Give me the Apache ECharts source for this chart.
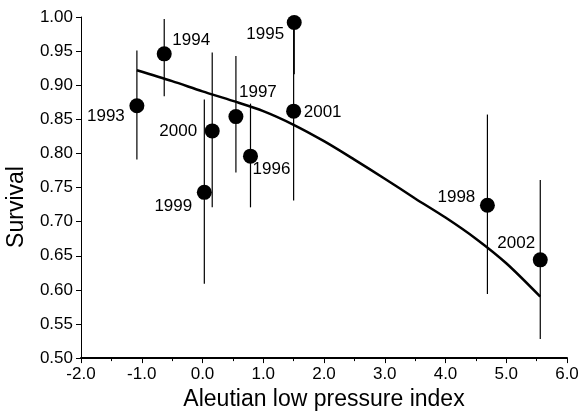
<!DOCTYPE html>
<html>
<head>
<meta charset="utf-8">
<script src="https://cdn.jsdelivr.net/npm/echarts@6/dist/echarts.min.js"></script>
<style>
  html, body { margin: 0; padding: 0; background: #fff; }
  #chart { width: 583px; height: 416px; }
</style>
</head>
<body>
<div id="chart"></div>
<script>
// survival per year vs Aleutian low pressure index
const years = ['1993', '1994', '1995', '1996', '1997', '1998', '1999', '2000', '2001', '2002'];
const aleutian = [-1.08, -0.63, 1.51, 0.79, 0.55, 4.69, 0.03, 0.16, 1.50, 5.56];
const survival = [0.870, 0.946, 0.992, 0.796, 0.854, 0.724, 0.743, 0.833, 0.862, 0.644];
const ciLow = [0.791, 0.884, 0.916, 0.721, 0.772, 0.594, 0.609, 0.721, 0.731, 0.528];
const ciHigh = [0.951, 0.997, 1.000, 0.873, 0.943, 0.857, 0.879, 0.948, 0.990, 0.761];

// fitted curve
const fitX = [-1.08, -0.5, 0.0, 0.5, 1.0, 1.5, 2.0, 2.5, 3.0, 3.5, 4.0, 4.5, 5.0, 5.56];
const fitY = [0.922, 0.906, 0.891, 0.877, 0.862, 0.842, 0.818, 0.791, 0.763, 0.734, 0.706, 0.675, 0.639, 0.590];

// where each year label sits relative to its dot
const labelOffset = {
  '1993': [-31, 11],
  '1994': [27, -14],
  '1995': [-29, 12],
  '1996': [21, 13],
  '1997': [22, -24],
  '1998': [-31, -8],
  '1999': [-31, 14],
  '2000': [-34, 0],
  '2001': [29, 1],
  '2002': [-24, -17]
};

const font = 'Liberation Sans, Arial, Helvetica, sans-serif';

const chart = echarts.init(document.getElementById('chart'));

const option = {
  animation: false,
  backgroundColor: '#fff',
  grid: { left: 81, right: 16, top: 17, bottom: 53, containLabel: false },
  xAxis: {
    type: 'value',
    min: -2,
    max: 6,
    interval: 1,
    name: 'Aleutian low pressure index',
    nameLocation: 'middle',
    nameGap: 25,
    nameTextStyle: { fontFamily: font, fontSize: 23, color: '#000' },
    axisLine: { onZero: false, lineStyle: { color: '#000', width: 2 } },
    axisTick: { length: 5, lineStyle: { color: '#000', width: 1 } },
    minorTick: { show: true, splitNumber: 2, length: 3, lineStyle: { color: '#000', width: 1 } },
    axisLabel: {
      margin: 8,
      fontFamily: font,
      fontSize: 17,
      color: '#000',
      formatter: v => v.toFixed(1)
    },
    splitLine: { show: false }
  },
  yAxis: {
    type: 'value',
    min: 0.5,
    max: 1.0,
    interval: 0.05,
    axisLine: { show: true, onZero: false, lineStyle: { color: '#000', width: 1 } },
    axisTick: { show: true, length: 5, lineStyle: { color: '#000', width: 1 } },
    axisLabel: {
      margin: 8,
      fontFamily: font,
      fontSize: 17,
      color: '#000',
      formatter: v => v.toFixed(2)
    },
    splitLine: { show: false }
  },
  graphic: [
    {
      type: 'text',
      x: 17,
      y: 207,
      rotation: Math.PI / 2,
      style: {
        text: 'Survival',
        fill: '#000',
        font: '23px ' + font,
        textAlign: 'center',
        textVerticalAlign: 'middle'
      }
    }
  ],
  series: [
    {
      // error bars
      type: 'custom',
      z: 1,
      data: years.map((y, i) => [aleutian[i], ciLow[i], ciHigh[i]]),
      renderItem: (params, api) => {
        const lo = api.coord([api.value(0), api.value(1)]);
        const hi = api.coord([api.value(0), api.value(2)]);
        return {
          type: 'line',
          shape: { x1: lo[0], y1: lo[1], x2: hi[0], y2: hi[1] },
          style: { stroke: '#000', lineWidth: 1.2 }
        };
      }
    },
    {
      type: 'line',
      z: 2,
      data: fitX.map((x, i) => [x, fitY[i]]),
      smooth: 0.3,
      showSymbol: false,
      lineStyle: { color: '#000', width: 2.5 }
    },
    {
      type: 'scatter',
      z: 3,
      symbolSize: 15,
      itemStyle: { color: '#000', opacity: 1 },
      data: years.map((y, i) => ({
        value: [aleutian[i], survival[i]],
        label: {
          show: true,
          position: 'inside',
          offset: labelOffset[y],
          formatter: y,
          fontFamily: font,
          fontSize: 17,
          color: '#000'
        }
      }))
    }
  ]
};

chart.setOption(option);
window.addEventListener('resize', () => chart.resize());
</script>
</body>
</html>
